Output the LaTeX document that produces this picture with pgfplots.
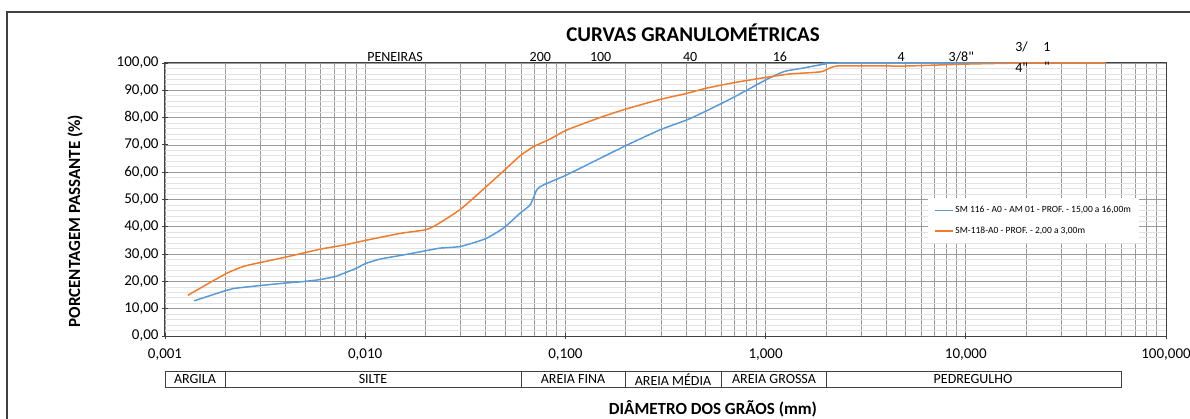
\documentclass[border=0pt]{standalone}
\usepackage{fontspec}
\setmainfont{Carlito}
\newfontfamily\qfont{Carlito}[Ligatures=TeXOff]
\usepackage{pgfplots}
\pgfplotsset{compat=1.18}
\definecolor{sblue}{HTML}{5B9BD5}
\definecolor{sorange}{HTML}{ED7D31}
\definecolor{gridc}{HTML}{9A9A9A}
\definecolor{gridl}{HTML}{E2E2E2}
\definecolor{axc}{HTML}{404040}
\tikzset{sieve/.style={font=\fontsize{14}{15}\selectfont\qfont, inner sep=1pt}}
\begin{document}
\begin{tikzpicture}[x=1pt,y=1pt]
\useasboundingbox (0,0) rectangle (1190,-419);
\draw[axc, line width=1.2pt] (7,-425)--(7,-12)--(1195,-12);
\begin{axis}[
  at={(165pt,-336pt)}, anchor=south west,
  scale only axis, width=1001pt, height=273pt,
  xmode=log, xmin=0.001, xmax=100, ymin=0, ymax=100,
  log basis x=10,
  xtick={0.001,0.01,0.1,1,10,100},
  xticklabels={{0,001},{0,010},{0,100},{1,000},{10,000},{100,000}},
  minor xtick={0.002,0.003,0.004,0.005,0.006,0.007,0.008,0.009,
    0.02,0.03,0.04,0.05,0.06,0.07,0.08,0.09,
    0.2,0.3,0.4,0.5,0.6,0.7,0.8,0.9,
    2,3,4,5,6,7,8,9,20,30,40,50,60,70,80,90},
  ytick={0,10,...,100}, minor y tick num=4,
  yticklabel style={/pgf/number format/.cd, fixed, fixed zerofill, precision=2, use comma, assume math mode=true},
  tick label style={font=\fontsize{15}{16}\selectfont, text=black},
  xticklabel style={yshift=-6pt},
  xtick pos=bottom, ytick pos=left,
  tick align=center, major tick length=6pt, minor tick length=0pt,
  tick style={axc, line width=0.8pt},
  axis line style={axc, line width=1pt},
  grid=both,
  major grid style={gridc, line width=0.7pt},
  minor x grid style={gridc, line width=0.7pt},
  minor y grid style={gridl, line width=0.7pt},
  clip mode=individual,
  legend style={at={(rel axis cs:0.762,0.505)}, anchor=north west, draw=none, fill=white,
    font=\fontsize{9.5}{10}\selectfont, row sep=9pt, inner xsep=6pt, inner ysep=6pt},
  legend cell align=left,
  legend image code/.code={\draw[#1] (0pt,0pt) -- (18pt,0pt);},
]
\addplot[sblue, line width=1.5pt, smooth, tension=0.35] coordinates {
(0.0014,12.9) (0.0020,16.6) (0.0022,17.4) (0.0030,18.5) (0.0040,19.4)
(0.0050,20.0) (0.0060,20.7) (0.0071,21.8) (0.0079,23.1) (0.0091,24.9)
(0.0100,26.5) (0.0119,28.2) (0.0150,29.5) (0.0200,31.2) (0.0237,32.2)
(0.0299,32.8) (0.0398,35.6) (0.0492,39.6) (0.0596,45.1) (0.0668,48.1)
(0.0721,53.6) (0.0780,55.4) (0.102,59.1) (0.200,69.7) (0.299,75.6)
(0.406,79.2) (0.501,82.3) (0.695,87.5) (1.02,94.1) (1.24,96.9)
(1.50,98.0) (2.0,99.7) (2.3,100) (50,100)};
\addlegendentry{SM 116 - A0 - AM 01 - PROF. - 15,00 a 16,00m}
\addplot[sorange, line width=1.5pt, smooth, tension=0.35] coordinates {
(0.0013,14.9) (0.0020,22.7) (0.00247,25.5) (0.00299,26.9) (0.00401,28.9)
(0.00596,31.8) (0.00794,33.4) (0.0100,35.0) (0.0150,37.6) (0.0200,38.9)
(0.0228,40.8) (0.0299,46.4) (0.0398,54.4) (0.0492,60.5) (0.0596,66.1)
(0.0695,69.4) (0.0826,71.9) (0.102,75.5) (0.150,80.1) (0.200,83.1)
(0.299,86.7) (0.406,88.9) (0.501,90.7) (0.695,92.8) (1.02,94.8)
(1.33,96.0) (1.9,96.8) (2.29,98.9) (5.0,98.9) (10,99.6) (20,100) (50,100)};
\addlegendentry{SM-118-A0 - PROF. - 2,00 a 3,00m}
% sieve labels
\node[sieve, anchor=south] at (axis cs:0.0141,100) {PENEIRAS};
\node[sieve, anchor=south] at (axis cs:0.075,100) {200};
\node[sieve, anchor=south] at (axis cs:0.15,100) {100};
\node[sieve, anchor=south] at (axis cs:0.42,100) {40};
\node[sieve, anchor=south] at (axis cs:1.18,100) {16};
\node[sieve, anchor=south] at (axis cs:4.76,100) {4};
\node[sieve, anchor=south] at (axis cs:9.5,100) {3/8"};
\node[sieve, anchor=south, yshift=10pt] at (axis cs:19,100) {3/};
\node[sieve, yshift=-5pt] at (axis cs:19,100) {4"};
\node[sieve, anchor=south, yshift=10pt] at (axis cs:25.4,100) {1};
\node[sieve, yshift=-4pt] at (axis cs:25.4,100) {"};
\end{axis}
% soil classification bar
\draw[axc, line width=0.8pt] (165,-371) rectangle (1121.6,-387);
\foreach \xx in {225.3,521,625.7,721.2,825.9} {\draw[axc, line width=0.8pt] (\xx,-371)--(\xx,-387);}
\begingroup
\tikzset{every node/.style={font=\fontsize{14}{15}\selectfont, inner sep=0pt}}
\node at (195,-379.5) {ARGILA};
\node at (373,-379.5) {SILTE};
\node at (573,-379.5) {AREIA FINA};
\node at (673,-379.5) {AREIA MÉDIA};
\node at (774,-379.5) {AREIA GROSSA};
\node at (973,-379.5) {PEDREGULHO};
\endgroup
% titles
\node[font=\fontsize{21}{23}\selectfont\bfseries] at (693,-33) {CURVAS GRANULOMÉTRICAS};
\node[font=\fontsize{17}{19}\selectfont\bfseries, rotate=90] at (75,-221) {PORCENTAGEM PASSANTE (\%)};
\node[font=\fontsize{17}{19}\selectfont\bfseries] at (713,-409) {DIÂMETRO DOS GRÃOS (mm)};
\end{tikzpicture}
\end{document}
